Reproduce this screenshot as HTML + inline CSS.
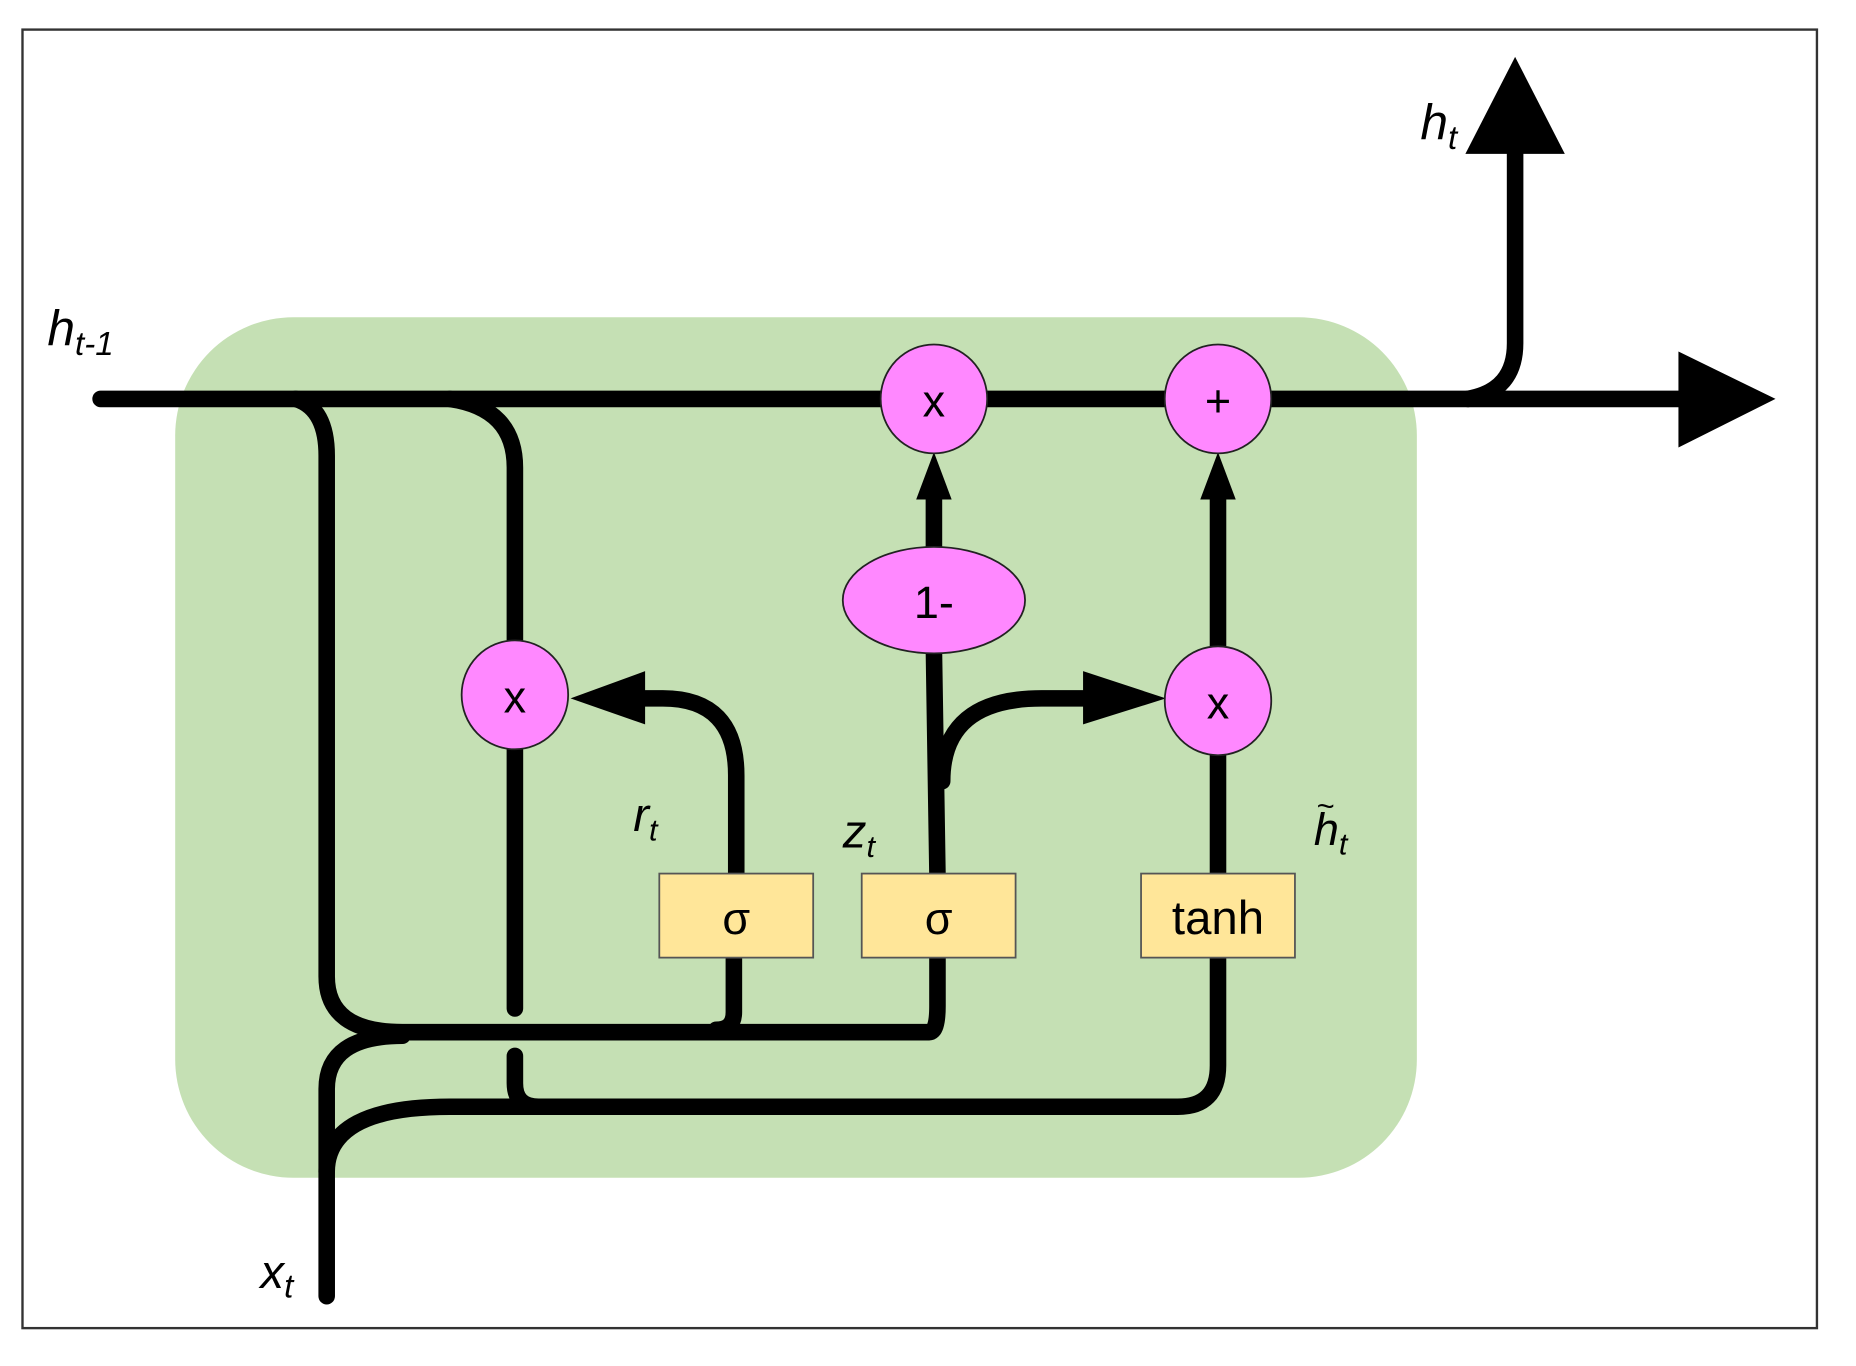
<!DOCTYPE html>
<html><head><style>
html,body{margin:0;padding:0;background:#fff;}
svg{display:block;}
text{font-family:"Liberation Sans",sans-serif;}
</style></head><body>
<svg width="1856" height="1366" viewBox="0 0 1568 1154" preserveAspectRatio="none" xmlns="http://www.w3.org/2000/svg">
<rect x="0" y="0" width="1568" height="1154" fill="#fff"/>
<rect x="19" y="25" width="1516" height="1097" fill="none" stroke="#333" stroke-width="2"/>
<rect x="148" y="268" width="1049" height="727" rx="100" ry="100" fill="#c5e0b4"/>
<g fill="none" stroke="#000" stroke-width="14" stroke-linecap="round">
<line x1="85" y1="337" x2="1425" y2="337"/>
<path d="M1240 337 Q1280 330 1280 290 L1280 128"/>
<path d="M250 337 Q276 345 276 385 L276 825 Q276 872 340 872 L785 872 Q792 872 792 850 L792 805"/>
<path d="M620 805 L620 855 Q620 870 605 870"/>
<path d="M380 337 Q435 345 435 395 L435 545"/>
<path d="M435 630 L435 852"/>
<path d="M276 1095 L276 920 Q276 875 340 875"/>
<path d="M276 990 Q276 935 380 935 L995 935 Q1029 935 1029 900 L1029 805"/>
<path d="M435 892 L435 915 Q435 935 455 935"/>
<path d="M1029 740 L1029 630"/>
<path d="M1029 550 L1029 415"/>
<path d="M792 740 L789 550"/>
<path d="M789 462 L789 415"/>
<path d="M796 660 Q796 590 880 590 L920 590"/>
<path d="M622 740 L622 655 Q622 590 560 590 L540 590"/>
</g>
<polygon points="1418,297 1500,337 1418,378" fill="#000"/>
<polygon points="1238,130 1280,48 1322,130" fill="#000"/>
<polygon points="915,567 985,590 915,612" fill="#000"/>
<polygon points="545,567 482,590 545,612" fill="#000"/>
<polygon points="1014,422 1029,382 1044,422" fill="#000"/>
<polygon points="774,422 789,382 804,422" fill="#000"/>
<g fill="#ff88ff" stroke="#222" stroke-width="1.5">
<ellipse cx="789" cy="337" rx="45" ry="46"/>
<ellipse cx="1029" cy="337" rx="45" ry="46"/>
<ellipse cx="435" cy="587" rx="45" ry="46"/>
<ellipse cx="1029" cy="592" rx="45" ry="46"/>
<ellipse cx="789" cy="507" rx="77" ry="45"/>
</g>
<g fill="#ffe699" stroke="#555" stroke-width="1.5">
<rect x="557" y="738" width="130" height="71"/>
<rect x="728" y="738" width="130" height="71"/>
<rect x="964" y="738" width="130" height="71"/>
</g>
<g font-size="38" text-anchor="middle" fill="#000">
<text x="789" y="352">x</text>
<text x="1029" y="352">+</text>
<text x="435" y="602">x</text>
<text x="1029" y="607">x</text>
<text x="789" y="522">1-</text>
<text x="622" y="789">σ</text>
<text x="793" y="789">σ</text>
<text x="1029" y="789" font-size="40">tanh</text>
</g>
<g font-style="italic" fill="#000">
<text x="40" y="292" font-size="42">h<tspan font-size="28" dy="8">t-1</tspan></text>
<text x="1200" y="118" font-size="42">h<tspan font-size="28" dy="8">t</tspan></text>
<text x="220" y="1088" font-size="40">x<tspan font-size="28" dy="8">t</tspan></text>
<text x="535" y="702" font-size="40" font-family="Liberation Serif,serif">r<tspan font-size="26" dy="8">t</tspan></text>
<text x="712" y="716" font-size="40" font-family="Liberation Serif,serif">z<tspan font-size="26" dy="8">t</tspan></text>
<text x="1110" y="714" font-size="38" font-family="Liberation Serif,serif">h<tspan font-size="26" dy="8">t</tspan></text>
<text x="1112" y="690" font-size="26" font-family="Liberation Serif,serif">~</text>
</g>
</svg>
</body></html>
